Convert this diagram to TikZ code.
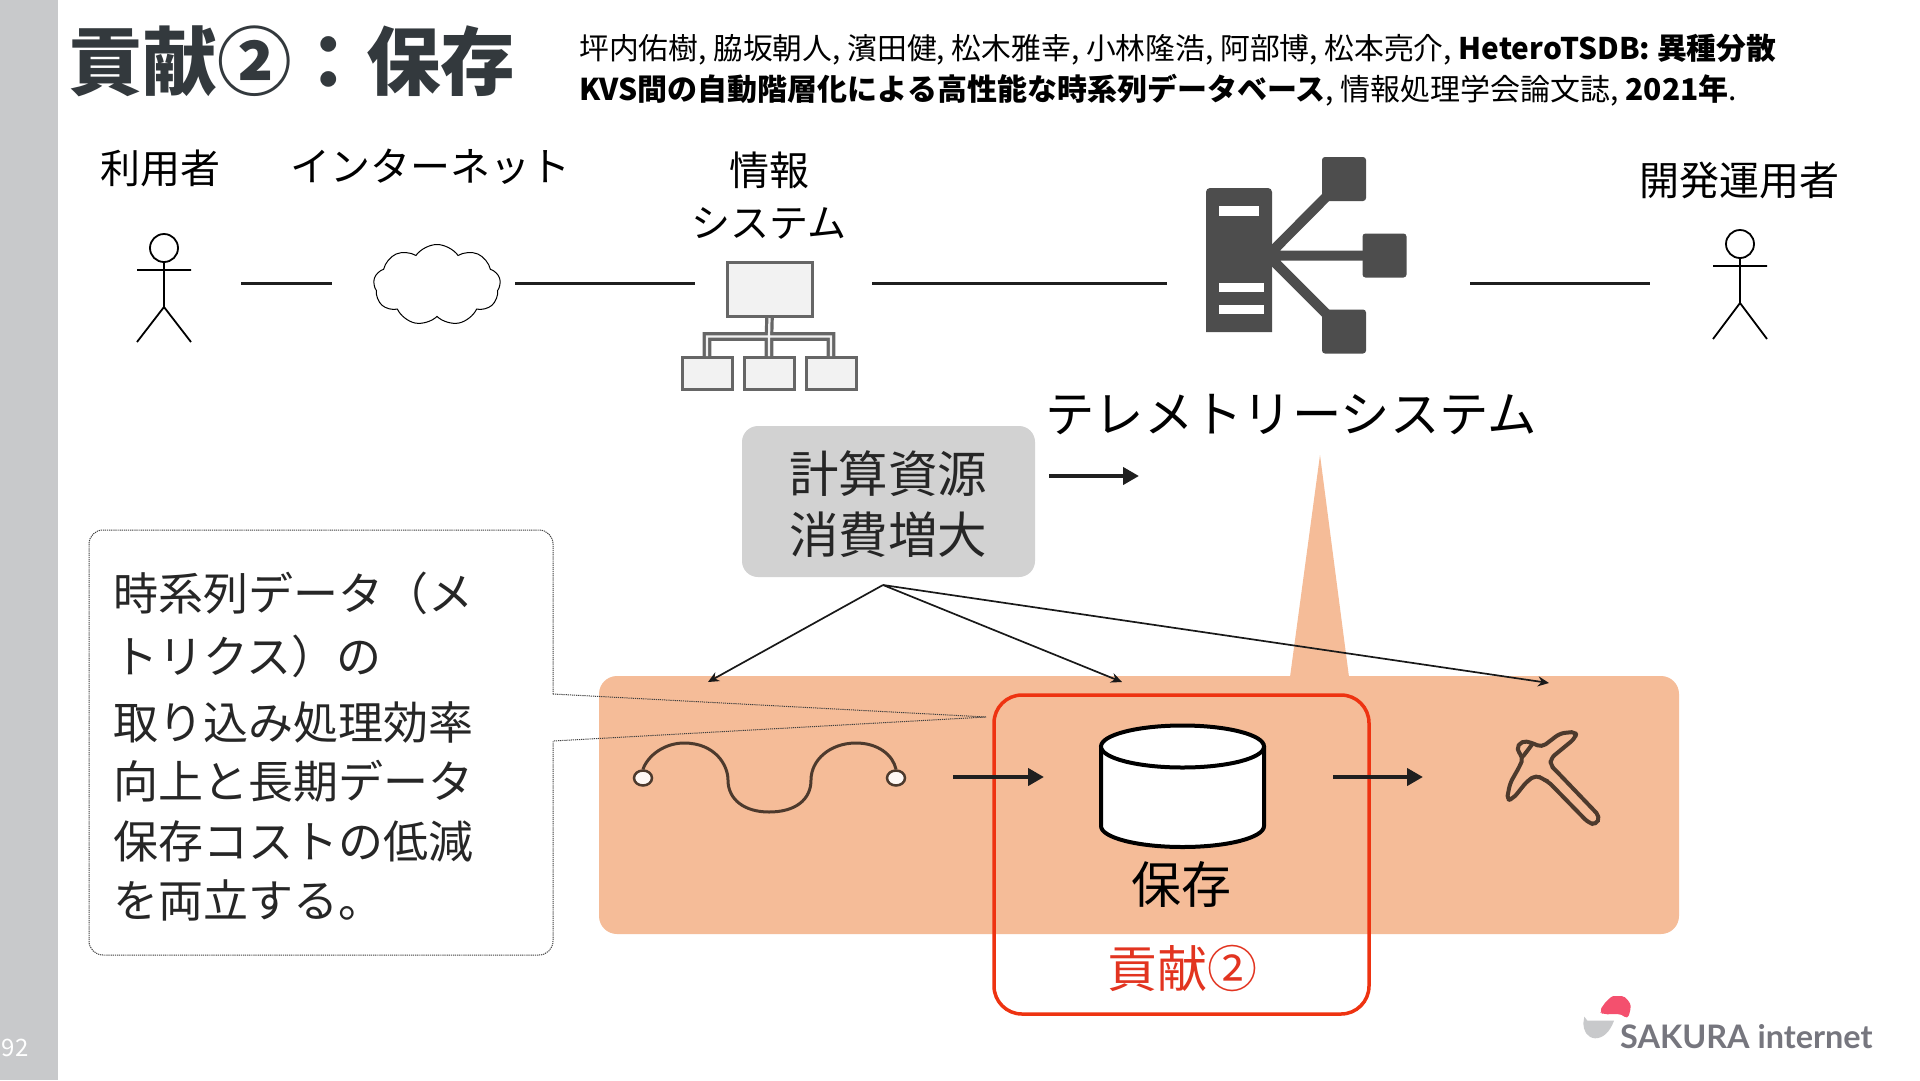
\documentclass[tikz,border=0pt]{standalone}
\usepackage{fontspec}
\setmainfont{Noto Sans CJK JP}
\newfontfamily\latofont{Lato}
\usetikzlibrary{arrows.meta,shapes.symbols,shapes.geometric}
\definecolor{sidebar}{HTML}{C8C9CB}
\definecolor{titlecol}{HTML}{33393D}
\definecolor{orangebg}{HTML}{F5BC98}
\definecolor{greybox}{HTML}{D2D2D2}
\definecolor{redline}{HTML}{EE3311}
\definecolor{redtext}{HTML}{E23420}
\definecolor{iconfill}{HTML}{F2F2F2}
\definecolor{iconedge}{HTML}{666666}
\definecolor{srv}{HTML}{4D4D4D}
\definecolor{brown}{HTML}{4D3A2D}
\definecolor{logotext}{HTML}{76767E}
\definecolor{sakura}{HTML}{F4506E}
\definecolor{logogrey}{HTML}{C8C9CB}
\newcommand{\fs}[1]{\fontsize{#1}{#1}\selectfont}
\tikzset{
  lbl/.style={inner sep=0pt,font=\fs{40},text=black},
  link/.style={line width=3pt,draw=black!88},
  stick/.style={line width=1.8pt,draw=black},
  ibox/.style={draw=iconedge,fill=iconfill,line width=3pt,inner sep=0pt},
  srvnode/.style={fill=srv,rounded corners=3pt,inner sep=0pt,minimum width=44pt,minimum height=44pt},
  srvarm/.style={draw=srv,line width=10pt},
  flow/.style={line width=4.5pt,draw=black!88,-{Triangle[length=16pt,width=17pt]}},
  thin arrow/.style={line width=1.7pt,draw=black!90,-{Stealth[length=11pt,width=10pt]}},
  calltext/.style={inner sep=0pt,anchor=west,font=\fs{45},text=black!85},
  dotline/.style={draw=black!75,line width=1pt,dash pattern=on 1.2pt off 0.9pt},
}
\begin{document}
\begin{tikzpicture}[x=1pt,y=-1pt]
\useasboundingbox (0,0) rectangle (1920,1080);
\fill[white] (0,0) rectangle (1920,1080);
\fill[sidebar] (0,0) rectangle (57.5,1080);
\node[inner sep=0pt,text=white,font=\fs{24}] (pageno) at (15,1048) {92};

% title
\node[inner sep=0pt,anchor=west,text=titlecol,font=\fs{74.5}\bfseries] (title) at (68,61) {貢献②：保存};
\node[inner sep=0pt,anchor=west,font=\fs{29.8}] (ref1) at (579,50) {坪内佑樹, 脇坂朝人, 濱田健, 松木雅幸, 小林隆浩, 阿部博, 松本亮介, \textbf{HeteroTSDB: 異種分散}};
\node[inner sep=0pt,anchor=west,font=\fs{30}] (ref2) at (579,90) {\textbf{KVS間の自動階層化による高性能な時系列データベース}, 情報処理学会論文誌, \textbf{2021年}.};

% top row labels
\node[lbl] (luser) at (160.5,168) {利用者};
\node[lbl] (lnet) at (430,167) {インターネット};
\node[lbl] (linfo1) at (769,170) {情報};
\node[lbl,font=\fs{39}] (linfo2) at (769,223) {システム};
\node[lbl] (ldev) at (1739,180) {開発運用者};
\node[lbl,font=\fs{49.4}] (ltele) at (1291,415) {テレメトリーシステム};

% user
\node[draw=black,line width=1.8pt,circle,minimum size=28pt,inner sep=0pt] (uhead) at (164,248) {};
\coordinate (uarmL) at (137,270); \coordinate (uarmR) at (191,270);
\coordinate (uhip) at (164,307); \coordinate (ulegL) at (137,342); \coordinate (ulegR) at (191,342);
\draw[stick] (uhead.south) -- (uhip) -- (ulegL) (uhip) -- (ulegR) (uarmL) -- (uarmR);

% developer
\node[draw=black,line width=1.8pt,circle,minimum size=28pt,inner sep=0pt] (dhead) at (1740,244) {};
\coordinate (darmL) at (1713,266); \coordinate (darmR) at (1767,266);
\coordinate (dhip) at (1740,303); \coordinate (dlegL) at (1713,339); \coordinate (dlegR) at (1767,339);
\draw[stick] (dhead.south) -- (dhip) -- (dlegL) (dhip) -- (dlegR) (darmL) -- (darmR);

% cloud
\node[cloud,draw=black,line width=1pt,cloud puffs=9,cloud puff arc=110,aspect=1.5,minimum width=127pt,minimum height=81pt,inner sep=0pt] (net) at (437,285) {};

% info system
\coordinate (ibus) at (769,336.5);
\node[ibox,minimum width=85pt,minimum height=54pt] (itop) at (769.5,289.5) {};
\node[ibox,minimum width=50pt,minimum height=32pt] (ia) at (707,373.5) {};
\node[ibox,minimum width=50pt,minimum height=32pt] (ib) at (769,373.5) {};
\node[ibox,minimum width=50pt,minimum height=32pt] (ic) at (831,373.5) {};
\draw[draw=iconedge,line width=3.2pt,double=iconfill,double distance=2.2pt] (ia.north) |- (ibus) -| (ic.north) (ibus) -- (ib.north) (ibus) -- (itop.south);

% telemetry icon
\coordinate (hub) at (1268,255.5);
\node[srvnode] (tn1) at (1344,179) {};
\node[srvnode] (tn2) at (1384.5,255.5) {};
\node[srvnode] (tn3) at (1344,331.5) {};
\draw[srvarm] (hub) -- (tn1.center) (hub) -- (tn2.center) (hub) -- (tn3.center);
\fill[srv] (1206,332) -- (1206,192) arc[start angle=180,end angle=90,radius=4pt] -- (1268,188) arc[start angle=90,end angle=0,radius=4pt] -- (1272,332) -- cycle;
\fill[white] (1219,206) rectangle (1259,216);
\fill[white] (1219,283) rectangle (1264,292);
\fill[white] (1219,305) rectangle (1264,314);

% links
\coordinate (l1a) at (241,283); \coordinate (l1b) at (332,283);
\coordinate (l2a) at (515,283); \coordinate (l2b) at (695,283);
\coordinate (l3a) at (872,283); \coordinate (l3b) at (1167,283);
\coordinate (l4a) at (1470,283); \coordinate (l4b) at (1650,283);
\draw[link] (l1a) -- (l1b);
\draw[link] (l2a) -- (l2b);
\draw[link] (l3a) -- (l3b);
\draw[link] (l4a) -- (l4b);

% orange stage
\fill[orangebg] (1290,677) -- (1320,455) -- (1349,677) -- cycle;
\fill[orangebg,rounded corners=18pt] (599,676) rectangle (1679,934);

% callout
\coordinate (ctip) at (986,717);
\coordinate (cu) at (553,694); \coordinate (cl) at (553,741);
\draw[dotline,rounded corners=14pt]
  (cu) -- (553,530) -- (89,530) -- (89,955) -- (553,955) -- (cl);
\draw[dotline] (cu) -- (ctip) -- (cl);
\node[calltext] (c1) at (113,593) {時系列データ（メ};
\node[calltext] (c2) at (113,656) {トリクス）の};
\node[calltext] (c3) at (113,722) {取り込み処理効率};
\node[calltext] (c4) at (113,781) {向上と長期データ};
\node[calltext] (c5) at (113,841) {保存コストの低減};
\node[calltext] (c6) at (113,900) {を両立する。};

% red frame
\node[draw=redline,line width=3.5pt,rounded corners=28pt,minimum width=375pt,minimum height=319pt,inner sep=0pt] (redframe) at (1181.5,854.5) {};
\node[lbl,text=redtext,font=\fs{50}] (lcontrib) at (1182,968) {貢献②};

% grey box
\node[fill=greybox,rounded corners=16pt,minimum width=293pt,minimum height=151pt,inner sep=0pt] (res) at (888.5,501.5) {};
\node[lbl,font=\fs{49.5},text=black!85] (r1) at (888,474) {計算資源};
\node[lbl,font=\fs{49.5},text=black!85] (r2) at (888,535) {消費増大};
\coordinate (a0) at (1049,476); \coordinate (a1) at (1139,476);
\draw[flow] (a0) -- (a1);

% fan-out arrows
\coordinate (fan) at (883,585);
\coordinate (f1) at (708,682); \coordinate (f2) at (1122,682); \coordinate (f3) at (1549,683);
\draw[thin arrow] (fan) -- (f1);
\draw[thin arrow] (fan) -- (f2);
\draw[thin arrow] (fan) -- (f3);

% wave
\node[draw=brown,fill=white!90!orangebg,line width=2.5pt,ellipse,minimum width=18pt,minimum height=15pt,inner sep=0pt] (wl) at (643,778) {};
\node[draw=brown,fill=white!90!orangebg,line width=2.5pt,ellipse,minimum width=18pt,minimum height=15pt,inner sep=0pt] (wr) at (896,778) {};
\draw[draw=brown,line width=3pt] (wl.north) .. controls (648,755) and (665,743) .. (684,743)
  .. controls (715,743) and (728,765) .. (728,780)
  .. controls (728,800) and (745,812) .. (769,812)
  .. controls (795,812) and (811,800) .. (811,780)
  .. controls (811,760) and (830,743) .. (856,743)
  .. controls (878,743) and (893,755) .. (wr.north);

% flow arrows
\coordinate (fa0) at (953,777); \coordinate (fa1) at (1044,777);
\coordinate (fb0) at (1333,777); \coordinate (fb1) at (1423,777);
\draw[flow] (fa0) -- (fa1);
\draw[flow] (fb0) -- (fb1);

% cylinder
\filldraw[draw=black,fill=white,line width=4pt] (1101,746.5) -- (1101,826) arc[start angle=180,end angle=360,x radius=81.5pt,y radius=21pt] -- (1264,746.5);
\node[ellipse,draw=black,fill=white,line width=4pt,minimum width=163pt,minimum height=42pt,inner sep=0pt] (cyl) at (1182.5,746.5) {};
\node[lbl,font=\fs{50}] (lstore) at (1181,884) {保存};

% pickaxe
\begin{scope}[shift={(1460,700)},scale=0.3333]
\draw[draw=brown,line width=4pt,rounded corners=5pt,line join=round]
  (350,95) -- (300,100) -- (245,142) -- (215,128) -- (185,122) -- (168,148) -- (190,172) -- (180,197) -- (150,250) -- (140,302) -- (160,295) -- (200,245) -- (228,225) -- (250,238) -- (265,245) -- (385,368) -- (408,375) -- (420,350) -- (288,212) -- (272,197) -- (272,175) -- (345,115) -- cycle;
\draw[draw=brown,line width=4pt,line cap=round] (215,135) -- (190,168);
\end{scope}

% logo
\begin{scope}[shift={(1540,960)},scale=0.3333]
\fill[sakura,rounded corners=4pt] (178,155) .. controls (195,125) and (215,108) .. (232,108) .. controls (258,108) and (272,130) .. (272,150) -- (262,178) -- (245,162) -- (190,163) -- cycle;
\fill[logogrey] (133,170) -- (142,182) -- (222,182) .. controls (210,215) and (190,235) .. (165,235) .. controls (140,233) and (130,210) .. (130,190) -- cycle;
\end{scope}
\node[inner sep=0pt,anchor=west,text=logotext,font=\latofont\bfseries\fs{32.4}] (logo) at (1620,1036.5) {SAKURA internet};
\end{tikzpicture}
\end{document}
